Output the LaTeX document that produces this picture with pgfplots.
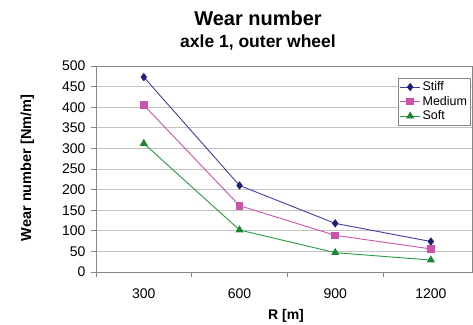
\documentclass[border=0pt]{standalone}
\usepackage{fontspec}
\setmainfont{Liberation Sans}
\usepackage{pgfplots}
\pgfplotsset{compat=1.18}
\definecolor{stiffL}{RGB}{62,62,165}
\definecolor{stiffM}{RGB}{30,30,115}
\definecolor{medC}{RGB}{204,82,172}
\definecolor{softL}{RGB}{40,155,65}
\definecolor{softM}{RGB}{25,135,50}
\definecolor{gridc}{RGB}{195,195,195}
\definecolor{axc}{RGB}{135,135,135}
\begin{document}
\begin{tikzpicture}[x=1pt,y=1pt]
\useasboundingbox (0,0) rectangle (473,324);
\begin{axis}[
  at={(96pt,52pt)}, anchor=south west,
  scale only axis, width=376pt, height=206pt,
  xmin=-0.5, xmax=3.43, ymin=0, ymax=500,
  xtick={0,1,2,3}, xticklabels={300,600,900,1200},
  minor xtick={-0.5,0.5,1.5,2.5},
  ytick={0,50,...,500},
  ymajorgrids,
  grid style={gridc, line width=0.8pt},
  axis line style={axc, line width=0.8pt},
  tick align=outside, xtick pos=bottom, ytick pos=left,
  major x tick style={draw=none},
  minor x tick style={axc, line width=0.8pt},
  major y tick style={axc, line width=0.8pt},
  major tick length=5pt, minor tick length=5pt,
  /pgf/number format/assume math mode=true,
  ticklabel style={font=\fontsize{14}{16}\selectfont},
  xticklabel style={yshift=-8pt},
  yticklabel style={xshift=-2pt},
  legend style={at={(rel axis cs:0.997,0.942)}, anchor=north east,
    draw=axc, line width=0.6pt, font=\fontsize{12.5}{15}\selectfont,
    inner sep=1.5pt, row sep=0pt},
  legend cell align=left,
  legend image code/.code={\draw[#1] (0pt,0pt) -- (20pt,0pt); \draw[#1, mark repeat=2, mark phase=2] plot coordinates {(0pt,0pt) (10pt,0pt) (20pt,0pt)};},
]
\addplot[stiffL, line width=0.9pt, mark=diamond*, mark size=3.5pt, mark options={fill=stiffM, draw=stiffM}]
  coordinates {(0,473) (1,210) (2,118) (3,74)};
\addlegendentry{Stiff}
\addplot[medC, line width=0.9pt, mark=square*, mark size=3.3pt, mark options={fill=medC, draw=medC}]
  coordinates {(0,405) (1,161) (2,89) (3,56)};
\addlegendentry{Medium}
\addplot[softL, line width=0.9pt, mark=triangle*, mark size=3.8pt, mark options={fill=softM, draw=softM}]
  coordinates {(0,312) (1,102) (2,47) (3,29)};
\addlegendentry{Soft}
\end{axis}
\node[anchor=base, font=\fontsize{20}{24}\selectfont\bfseries] at (258,298) {Wear number};
\node[anchor=base, font=\fontsize{17.5}{21}\selectfont\bfseries] at (258,276) {axle 1, outer wheel};
\node[rotate=90, font=\fontsize{14.5}{17}\selectfont\bfseries] at (27.5,156) {Wear number [Nm/m]};
\node[anchor=base, font=\fontsize{14}{17}\selectfont\bfseries] at (286,5) {R [m]};
\end{tikzpicture}
\end{document}
